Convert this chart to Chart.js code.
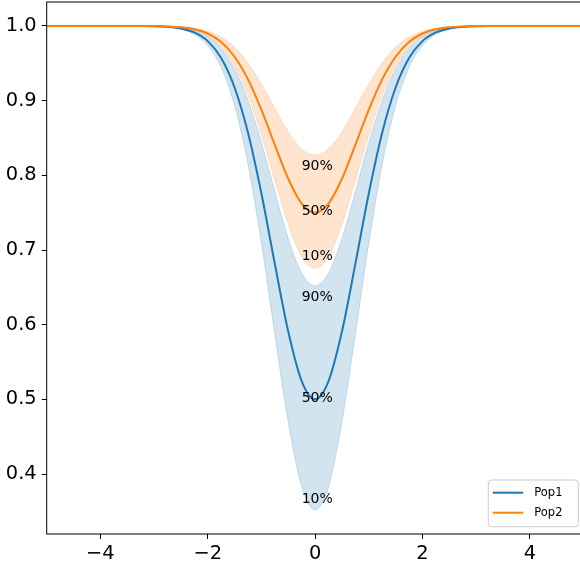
<!DOCTYPE html>
<html>
<head>
<meta charset="utf-8">
<script src="https://cdn.jsdelivr.net/npm/chart.js@4"></script>
<style>
  html, body { margin: 0; padding: 0; overflow: hidden; background: #fff; }
  canvas { display: block; }
</style>
</head>
<body>
<canvas id="c" width="600" height="563"></canvas>
<script>
// x positions of the sampled curves
const xValues = [-5, -4.75, -4.5, -4.25, -4, -3.75, -3.5, -3.25, -3, -2.75, -2.5, -2.25, -2, -1.75, -1.5, -1.25, -1, -0.75, -0.5, -0.25,
  0, 0.25, 0.5, 0.75, 1, 1.25, 1.5, 1.75, 2, 2.25, 2.5, 2.75, 3, 3.25, 3.5, 3.75, 4, 4.25, 4.5, 4.75, 5];

// Pop1: median and 10% / 90% percentile curves
const pop1Median = [1, 1, 1, 1, 1, 1, 1, 0.9999, 0.9996, 0.9988, 0.9967, 0.9913, 0.9797, 0.9570, 0.9176, 0.8570, 0.7756, 0.6814, 0.5908, 0.5244,
  0.5000, 0.5244, 0.5908, 0.6814, 0.7756, 0.8570, 0.9176, 0.9570, 0.9797, 0.9913, 0.9967, 0.9988, 0.9996, 0.9999, 1, 1, 1, 1, 1, 1, 1];
const pop1P10 = [1, 1, 1, 1, 1, 1, 1, 0.9999, 0.9995, 0.9985, 0.9957, 0.9888, 0.9737, 0.9443, 0.8932, 0.8147, 0.7091, 0.5871, 0.4696, 0.3836,
  0.3520, 0.3836, 0.4696, 0.5871, 0.7091, 0.8147, 0.8932, 0.9443, 0.9737, 0.9888, 0.9957, 0.9985, 0.9995, 0.9999, 1, 1, 1, 1, 1, 1, 1];
const pop1P90 = [1, 1, 1, 1, 1, 1, 1, 0.9999, 0.9997, 0.9992, 0.9977, 0.9940, 0.9859, 0.9701, 0.9426, 0.9005, 0.8438, 0.7782, 0.7152, 0.6690,
  0.6520, 0.6690, 0.7152, 0.7782, 0.8438, 0.9005, 0.9426, 0.9701, 0.9859, 0.9940, 0.9977, 0.9992, 0.9997, 0.9999, 1, 1, 1, 1, 1, 1, 1];

// Pop2: median and 10% / 90% percentile curves
const pop2Median = [1, 1, 1, 1, 1, 1, 1, 1, 0.9998, 0.9994, 0.9983, 0.9957, 0.9899, 0.9785, 0.9588, 0.9285, 0.8878, 0.8407, 0.7954, 0.7622,
  0.7500, 0.7622, 0.7954, 0.8407, 0.8878, 0.9285, 0.9588, 0.9785, 0.9899, 0.9957, 0.9983, 0.9994, 0.9998, 1, 1, 1, 1, 1, 1, 1, 1];
const pop2P10 = [1, 1, 1, 1, 1, 1, 1, 0.9999, 0.9998, 0.9992, 0.9978, 0.9944, 0.9868, 0.9721, 0.9465, 0.9072, 0.8543, 0.7932, 0.7344, 0.6913,
  0.6755, 0.6913, 0.7344, 0.7932, 0.8543, 0.9072, 0.9465, 0.9721, 0.9868, 0.9944, 0.9978, 0.9992, 0.9998, 0.9999, 1, 1, 1, 1, 1, 1, 1];
const pop2P90 = [1, 1, 1, 1, 1, 1, 1, 1, 0.9999, 0.9996, 0.9988, 0.9970, 0.9930, 0.9851, 0.9715, 0.9505, 0.9224, 0.8898, 0.8584, 0.8354,
  0.8270, 0.8354, 0.8584, 0.8898, 0.9224, 0.9505, 0.9715, 0.9851, 0.9930, 0.9970, 0.9988, 0.9996, 0.9999, 1, 1, 1, 1, 1, 1, 1, 1];

// Percentile annotations placed at the dip centre
const pctLabels = ['10%', '50%', '90%'];
const pctLabelX = 0.04;
const pop1LabelY = [0.3666, 0.5014, 0.6367];
const pop2LabelY = [0.6910, 0.7513, 0.8116];

// Axis ticks and limits
const xTicks = [-4, -2, 0, 2, 4];
const yTicks = [0.4, 0.5, 0.6, 0.7, 0.8, 0.9, 1.0];
const xMin = -5, xMax = 5;
const yMin = 0.3197, yMax = 1.0321;

const BLUE = '#1f77b4';
const ORANGE = '#ff7f0e';
const BLUE_BAND = 'rgba(31,119,180,0.2)';
const ORANGE_BAND = 'rgba(255,127,14,0.2)';
const FONT = '"DejaVu Sans", sans-serif';

const pts = ys => xValues.map((x, i) => ({ x: x, y: ys[i] }));

const lineDs = (label, ys, color, order) => ({
  label: label, data: pts(ys), borderColor: color, borderWidth: 2,
  pointRadius: 0, fill: false, cubicInterpolationMode: 'monotone', order: order
});
const bandDs = (ys, color, fill, order) => ({
  label: '', data: pts(ys), borderColor: color, backgroundColor: color, borderWidth: 1,
  pointRadius: 0, fill: fill, cubicInterpolationMode: 'monotone', order: order
});

const datasets = [
  lineDs('Pop1', pop1Median, BLUE, 4),
  bandDs(pop1P10, BLUE_BAND, '+1', 5),
  bandDs(pop1P90, BLUE_BAND, false, 5),
  lineDs('Pop2', pop2Median, ORANGE, 1),
  bandDs(pop2P10, ORANGE_BAND, '+1', 2),
  bandDs(pop2P90, ORANGE_BAND, false, 2)
];

// Frame, percentile text and an in-axes legend
const decor = {
  id: 'decor',
  afterDatasetsDraw(chart) {
    const { ctx, chartArea: a, scales } = chart;
    const xs = scales.x, ys = scales.y;
    ctx.save();
    // percentile labels
    ctx.fillStyle = '#000';
    ctx.font = '14px ' + FONT;
    ctx.textAlign = 'center';
    ctx.textBaseline = 'middle';
    const px = xs.getPixelForValue(pctLabelX);
    pctLabels.forEach((t, i) => {
      ctx.fillText(t, px, ys.getPixelForValue(pop1LabelY[i]));
      ctx.fillText(t, px, ys.getPixelForValue(pop2LabelY[i]));
    });
    // axes frame
    ctx.strokeStyle = '#000';
    ctx.lineWidth = 1;
    ctx.strokeRect(a.left, a.top, a.right - a.left, a.bottom - a.top);
    // legend box
    const entries = chart.data.datasets.filter(d => d.label);
    const w = 90, h = 46.7;
    const bx = a.right - 5.2 - w, by = a.bottom - 7.3 - h;
    const r = 3;
    ctx.beginPath();
    ctx.moveTo(bx + r, by);
    ctx.lineTo(bx + w - r, by);
    ctx.arcTo(bx + w, by, bx + w, by + r, r);
    ctx.lineTo(bx + w, by + h - r);
    ctx.arcTo(bx + w, by + h, bx + w - r, by + h, r);
    ctx.lineTo(bx + r, by + h);
    ctx.arcTo(bx, by + h, bx, by + h - r, r);
    ctx.lineTo(bx, by + r);
    ctx.arcTo(bx, by, bx + r, by, r);
    ctx.closePath();
    ctx.fillStyle = 'rgba(255,255,255,0.8)';
    ctx.fill();
    ctx.strokeStyle = '#cccccc';
    ctx.stroke();
    ctx.font = '11.5px ' + FONT;
    ctx.textAlign = 'left';
    entries.forEach((d, i) => {
      const yy = by + 12.7 + i * 20;
      ctx.strokeStyle = d.borderColor;
      ctx.lineWidth = 2;
      ctx.beginPath();
      ctx.moveTo(bx + 4.4, yy);
      ctx.lineTo(bx + 35, yy);
      ctx.stroke();
      ctx.fillStyle = '#000';
      ctx.fillText(d.label, bx + 46, yy + 0.5);
    });
    ctx.restore();
  }
};

new Chart(document.getElementById('c'), {
  type: 'line',
  data: { datasets: datasets },
  options: {
    responsive: false,
    animation: false,
    layout: { padding: { top: 2, right: 16.5, left: 0, bottom: 0 } },
    plugins: {
      legend: { display: false },
      tooltip: { enabled: false },
      filler: { drawTime: 'beforeDatasetDraw' }
    },
    scales: {
      x: {
        type: 'linear', min: xMin, max: xMax,
        afterBuildTicks: s => { s.ticks = xTicks.map(v => ({ value: v })); },
        afterFit: s => { s.height = 29; s.paddingLeft = 0; s.paddingRight = 0; },
        border: { display: false },
        grid: { display: true, drawOnChartArea: false, drawTicks: true, tickLength: 5, color: '#000' },
        ticks: {
          padding: 3, color: '#000', font: { family: FONT, size: 19.4 }, maxRotation: 0,
          callback: v => (v < 0 ? '\u2212' + Math.abs(v) : String(v))
        }
      },
      y: {
        type: 'linear', min: yMin, max: yMax,
        afterBuildTicks: s => { s.ticks = yTicks.map(v => ({ value: v })); },
        afterFit: s => { s.width = 46.7; s.paddingTop = 0; s.paddingBottom = 0; },
        border: { display: false },
        grid: { display: true, drawOnChartArea: false, drawTicks: true, tickLength: 5, color: '#000' },
        ticks: {
          padding: 5, color: '#000', font: { family: FONT, size: 19.4 },
          callback: v => v.toFixed(1)
        }
      }
    }
  },
  plugins: [decor]
});
</script>
</body>
</html>
